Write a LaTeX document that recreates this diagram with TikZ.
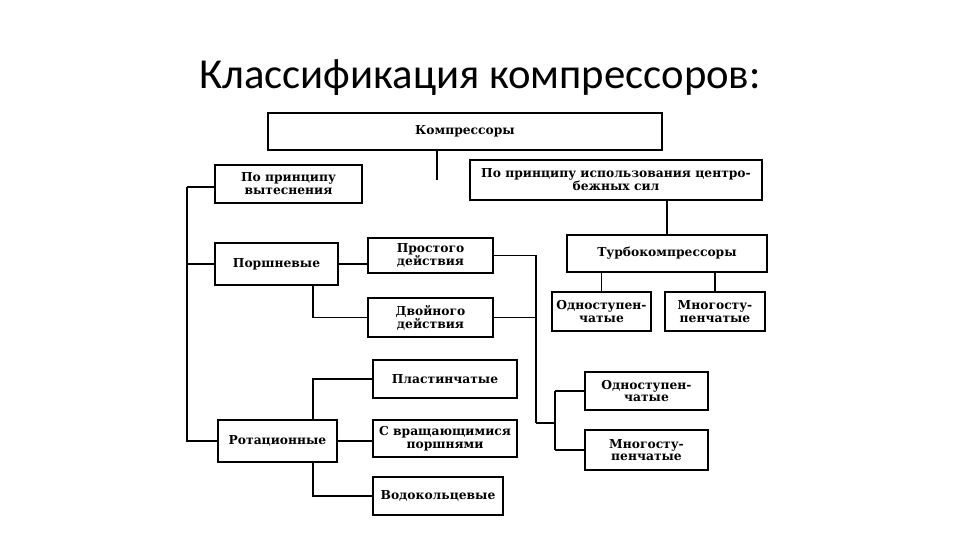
\documentclass[tikz,border=0pt]{standalone}
\usepackage{fontspec}
\setmainfont{DejaVu Serif}
\newfontfamily\titlefont{Carlito}
\usepackage{tikz}

\begin{document}
\begin{tikzpicture}[x=1pt, y=-1pt,
    box/.style={draw, line width=1.4pt, fill=white, inner sep=1pt, align=center,
                font=\fontsize{12.3}{12.8}\selectfont\bfseries},
    link/.style={line width=1.1pt}]
    \useasboundingbox (0,0) rectangle (960,540);

    % title
    \node[font=\titlefont\fontsize{42.7}{42.7}\selectfont] (title) at (480,78) {Классификация компрессоров:};

    % boxes
    \node[box, minimum width=394pt, minimum height=37pt] (komp) at (465,131.5) {Компрессоры};
    \node[box, minimum width=147pt, minimum height=38pt] (vyt) at (288.5,184) {По принципу\\вытеснения};
    \node[box, minimum width=292pt, minimum height=40pt] (centr) at (616,180) {По принципу использования центро-\\бежных сил};
    \node[box, minimum width=200pt, minimum height=37pt] (turbo) at (667,253.5) {Турбокомпрессоры};
    \node[box, minimum width=99pt, minimum height=39pt] (odnA) at (601.5,311.5) {Одноступен-\\чатые};
    \node[box, minimum width=100pt, minimum height=39pt] (mngA) at (715,311.5) {Многосту-\\пенчатые};
    \node[box, minimum width=123pt, minimum height=42pt] (porsh) at (276.5,264) {Поршневые};
    \node[box, minimum width=125pt, minimum height=35pt] (prost) at (430.5,255.5) {Простого\\действия};
    \node[box, minimum width=125pt, minimum height=39pt] (dvoin) at (430.5,317.5) {Двойного\\действия};
    \node[box, minimum width=119pt, minimum height=42pt] (rot) at (277.5,441) {Ротационные};
    \node[box, minimum width=144pt, minimum height=38pt] (plast) at (445,379) {Пластинчатые};
    \node[box, minimum width=144pt, minimum height=37pt] (vrasch) at (445,438.5) {С вращающимися\\поршнями};
    \node[box, minimum width=130pt, minimum height=38pt] (vodo) at (438,496) {Водокольцевые};
    \node[box, minimum width=123pt, minimum height=38pt] (odnB) at (646.5,391) {Одноступен-\\чатые};
    \node[box, minimum width=123pt, minimum height=40pt] (mngB) at (646.5,450) {Многосту-\\пенчатые};

    % helper points
    \coordinate (kstub) at (437,180);
    \coordinate (lbus) at (187,187);
    \coordinate (rbus) at (536,423);
    \coordinate (bracket) at (555,423);

    % top
    \draw[link] (komp.south -| kstub) -- (kstub);
    \draw[link] (centr.south -| turbo.north) -- (turbo.north);
    \draw[link] (turbo.south -| odnA.north) -- (odnA.north);
    \draw[link] (turbo.south -| mngA.north) -- (mngA.north);

    % left bus
    \draw[link] (lbus) -- (lbus |- rot.west) -- (rot.west);
    \draw[link] (lbus) -- (lbus -| vyt.west);
    \draw[link] (lbus |- porsh.west) -- (porsh.west);

    % piston
    \draw[link] (porsh.east) -- (porsh.east -| prost.west);
    \draw[link] (porsh.south -| 313,0) |- (dvoin.west);
    \draw[link] (prost.east) -| (rbus);
    \draw[link] (dvoin.east) -- (dvoin.east -| rbus);
    \draw[link] (rbus) -- (bracket);
    \draw[link] (bracket |- odnB.west) -- (bracket |- mngB.west);
    \draw[link] (bracket |- odnB.west) -- (odnB.west);
    \draw[link] (bracket |- mngB.west) -- (mngB.west);

    % rotary
    \draw[link] (rot.north -| 313,0) |- (plast.west);
    \draw[link] (rot.south -| 313,0) |- (vodo.west);
    \draw[link] (rot.east) -- (rot.east -| vrasch.west);

\end{tikzpicture}
\end{document}
